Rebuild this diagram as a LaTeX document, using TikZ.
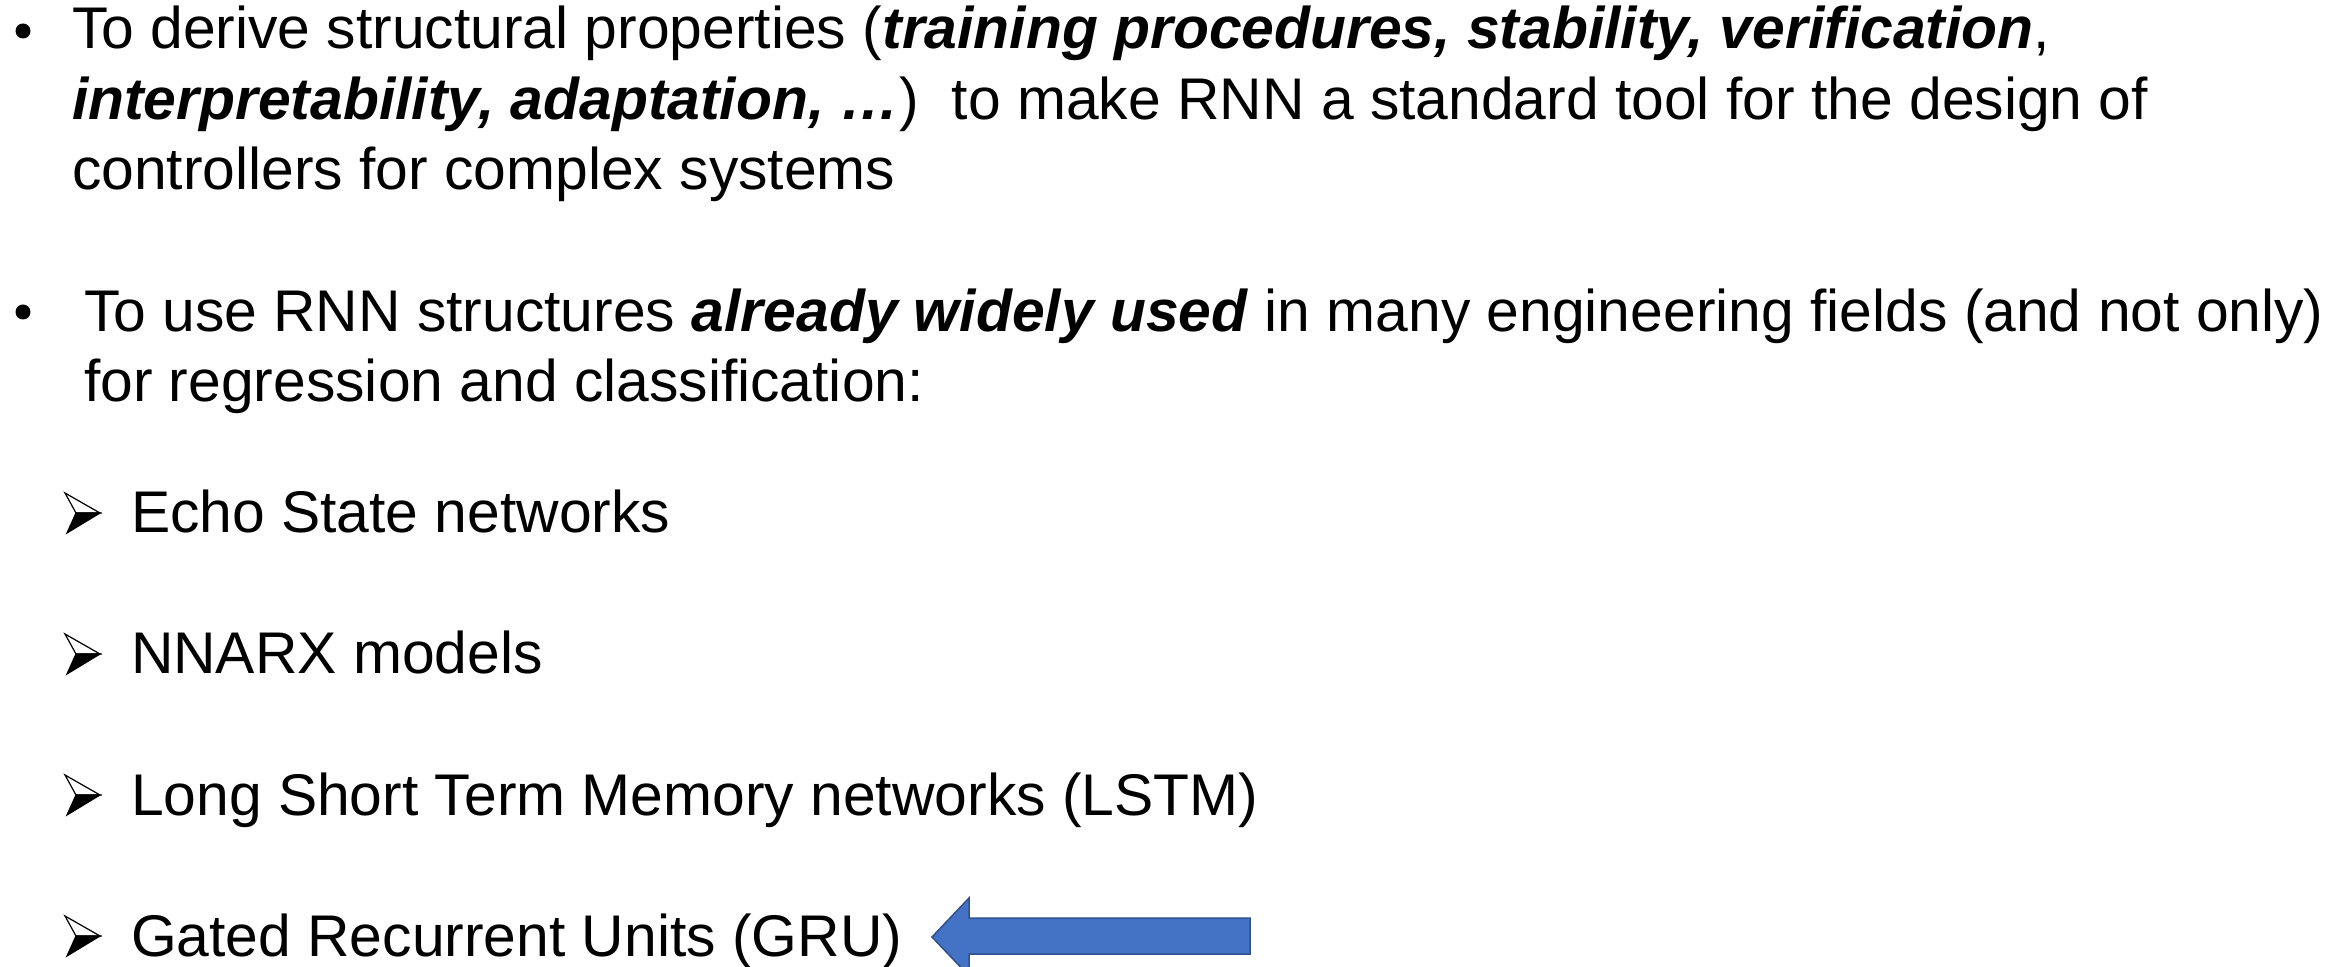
\documentclass[tikz,border=0pt]{standalone}
\usepackage{fontspec}
\setmainfont{Liberation Sans}
\definecolor{arrowfill}{HTML}{4472C4}
\definecolor{arrowline}{HTML}{2F528F}
\newcommand{\bi}[1]{\textbf{\textit{#1}}}
\begin{document}
\begin{tikzpicture}[x=0.5pt,y=-0.5pt,
  txt/.style={anchor=base west,inner sep=0pt,outer sep=0pt,font=\fontsize{29.4pt}{35pt}\selectfont},
  dot/.style={circle,fill=black,inner sep=0pt,minimum size=7.5pt},
  symline/.style={line width=0.6pt,line join=miter},
  bigarrow/.style={fill=arrowfill,draw=arrowline,line width=0.75pt,line join=miter}
]
\useasboundingbox (0,0) rectangle (2351,967);
\clip (0,0) rectangle (2351,967);
\fill[white] (0,0) rectangle (2351,967);
% bullet 1
\node[dot] (d1) at (23,31) {};
\node[txt] (l1) at (72,49) {To derive structural properties (\bi{training procedures, stability, verification},};
\node[txt] (l2) at (72,120) {\bi{interpretability, adaptation, …})\ \ to make RNN a standard tool for the design of};
\node[txt] (l3) at (72,190) {controllers for complex systems};
% bullet 2
\node[dot] (d2) at (23,312) {};
\node[txt] (m1) at (84,332) {To use RNN structures \bi{already widely used} in many engineering fields (and not only)};
\node[txt] (m2) at (84,402) {for regression and classification:};
% sub bullet symbols
\foreach \yy in {533,674,815,956}{
  \draw[symline] (65,\yy-40) -- (100,\yy-20) -- (76,\yy-20) -- cycle;
  \filldraw[symline] (76,\yy-20) -- (100,\yy-20) -- (67,\yy) -- cycle;
}
% sub bullet texts
\node[txt] (s1) at (131,533) {Echo State networks};
\node[txt] (s2) at (131,674) {NNARX models};
\node[txt] (s3) at (131,815) {Long Short Term Memory networks (LSTM)};
\node[txt] (s4) at (131,956) {Gated Recurrent Units (GRU)};
% arrow
\draw[bigarrow] (932,937) -- (969,898) -- (969,918) -- (1250,918) -- (1250,954) -- (969,954) -- (969,976) -- cycle;
\end{tikzpicture}
\end{document}
